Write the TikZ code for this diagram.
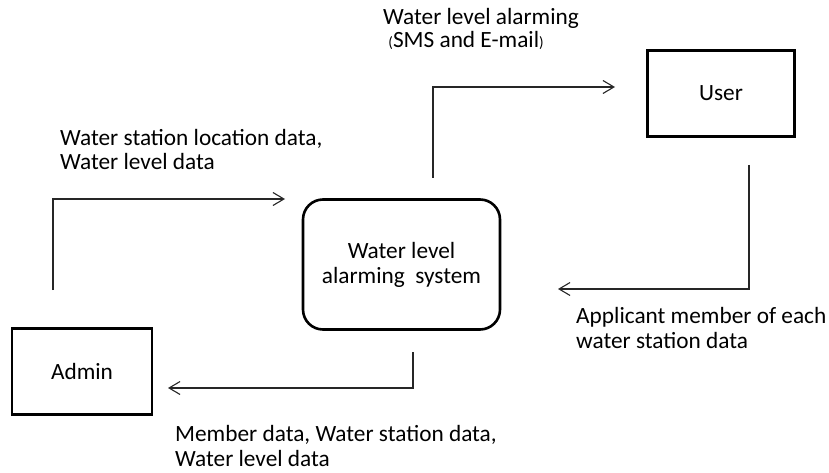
\documentclass[tikz,border=0pt]{standalone}
\usepackage{fontspec}
\setmainfont{Carlito}
\usetikzlibrary{arrows.meta, positioning}

\begin{document}
\begin{tikzpicture}[x=1pt, y=-1pt,
  entity/.style={draw, line width=2.6pt, minimum width=#1, minimum height=86pt, inner sep=0pt, font=\fontsize{23.3}{25}\selectfont},
  process/.style={draw, line width=2.6pt, rounded corners=20pt, minimum width=197pt, minimum height=130pt, align=center, inner sep=0pt, font=\fontsize{23.3}{25}\selectfont},
  flow/.style={draw=black!85, line width=1.1pt, -{Straight Barb[length=11pt, width=13pt, line width=1.1pt]}},
  lbl/.style={anchor=base west, align=left, inner sep=0pt, font=\fontsize{23.3}{24.5}\selectfont}
]
  \useasboundingbox (0,0) rectangle (829,473);

  % boxes
  \node[entity=140pt] (admin) at (82,371.5) {Admin};
  \node[entity=147pt] (user) at (721,93.5) {User};
  \node[process] (system) at (401.5,264.5) {Water level\\alarming\ \ system};

  % connector ends
  \coordinate (adminOut) at (53,290);
  \coordinate (systemIn) at (285,199);
  \coordinate (systemOut) at (433,178);
  \coordinate (userIn) at (615,87);
  \coordinate (userOut) at (749,165);
  \coordinate (systemIn2) at (558,289);
  \coordinate (systemOut2) at (413,352);
  \coordinate (adminIn) at (168,388);

  \draw[flow] (adminOut) |- (systemIn);
  \draw[flow] (systemOut) |- (userIn);
  \draw[flow] (userOut) |- (systemIn2);
  \draw[flow] (systemOut2) |- (adminIn);

  % data labels (anchored at the baseline of the last line)
  \node[lbl] (alarmLbl) at (383,48) {Water level alarming\\[-1pt]\ {\fontsize{15}{15}\selectfont(}SMS and E-mail{\fontsize{15}{15}\selectfont)}};
  \node[lbl] (stationLbl) at (60,170) {Water station location data,\\Water level data};
  \node[lbl] (applicantLbl) at (576,348) {Applicant member of each\\water station data};
  \node[lbl] (memberLbl) at (175,466) {Member data, Water station data,\\Water level data};
\end{tikzpicture}
\end{document}
